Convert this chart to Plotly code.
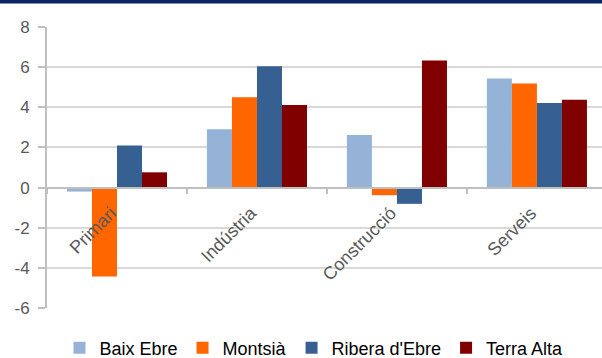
import plotly.graph_objects as go

categories = ["Primari", "Indústria", "Construcció", "Serveis"]
baix_ebre = [-0.2, 2.9, 2.62, 5.44]
montsia = [-4.43, 4.5, -0.38, 5.19]
ribera_ebre = [2.09, 6.05, -0.81, 4.21]
terra_alta = [0.76, 4.11, 6.33, 4.38]
y_ticks = [-6, -4, -2, 0, 2, 4, 6, 8]
y_ticktext = ["-6", "-4", "-2", "0", "2", "4", "6", "8"]

series = [
    ("Baix Ebre", baix_ebre, "#95B3D7"),
    ("Montsià", montsia, "#FF6600"),
    ("Ribera d'Ebre", ribera_ebre, "#366092"),
    ("Terra Alta", terra_alta, "#800000"),
]

fig = go.Figure()
for name, vals, col in series:
    fig.add_trace(go.Bar(x=categories, y=vals, name=name,
                         marker=dict(color=col, line=dict(width=0))))

# plot area: x 47..602, y 27..308
W, H = 602, 358
ml, mt, mb = 47, 27, 50
ph = H - mt - mb
pw = W - ml

fig.update_layout(
    width=W, height=H,
    margin=dict(l=ml, r=0, t=mt, b=mb, autoexpand=False),
    paper_bgcolor="white", plot_bgcolor="white",
    barmode="group", bargap=0.285, bargroupgap=0,
    font=dict(family="Liberation Sans, Arial, sans-serif", color="#595959", size=16),
    legend=dict(orientation="h", x=(314 - ml) / pw, xanchor="center",
                y=-(348 - 308) / ph, yanchor="middle",
                font=dict(size=18, color="#000000"), itemwidth=30, traceorder="normal"),
    showlegend=True,
)

fig.update_xaxes(
    range=[-0.5, 3.465], anchor="free", position=6 / 14,
    showline=True, linecolor="#BFBFBF", linewidth=2,
    ticks="outside", tickson="boundaries", ticklen=5, tickcolor="#BFBFBF", tickwidth=1.5,
    tickangle=-45, showgrid=False, automargin=False,
    ticklabelstandoff=7, ticklabelshift=-6,
    tickfont=dict(size=18, color="#595959"),
)
fig.update_yaxes(
    range=[-6, 8], tickvals=y_ticks, ticktext=y_ticktext,
    showline=True, linecolor="#BFBFBF", linewidth=2,
    ticks="outside", ticklen=7, tickcolor="#BFBFBF", tickwidth=1.5,
    showgrid=True, gridcolor="#D9D9D9", gridwidth=2,
    zeroline=False, automargin=False, ticklabelstandoff=5,
    tickfont=dict(size=17, color="#595959"),
)

# navy band along the top edge
fig.add_shape(type="rect", xref="paper", yref="paper",
              x0=-0.2, x1=1.1, y0=1 + (mt - 3.5) / ph, y1=1 + (mt + 2) / ph,
              fillcolor="#0B2566", line=dict(width=0), layer="above")

fig.write_html("out.html", config={"displayModeBar": False},
               post_script="document.body.style.margin='0';")
